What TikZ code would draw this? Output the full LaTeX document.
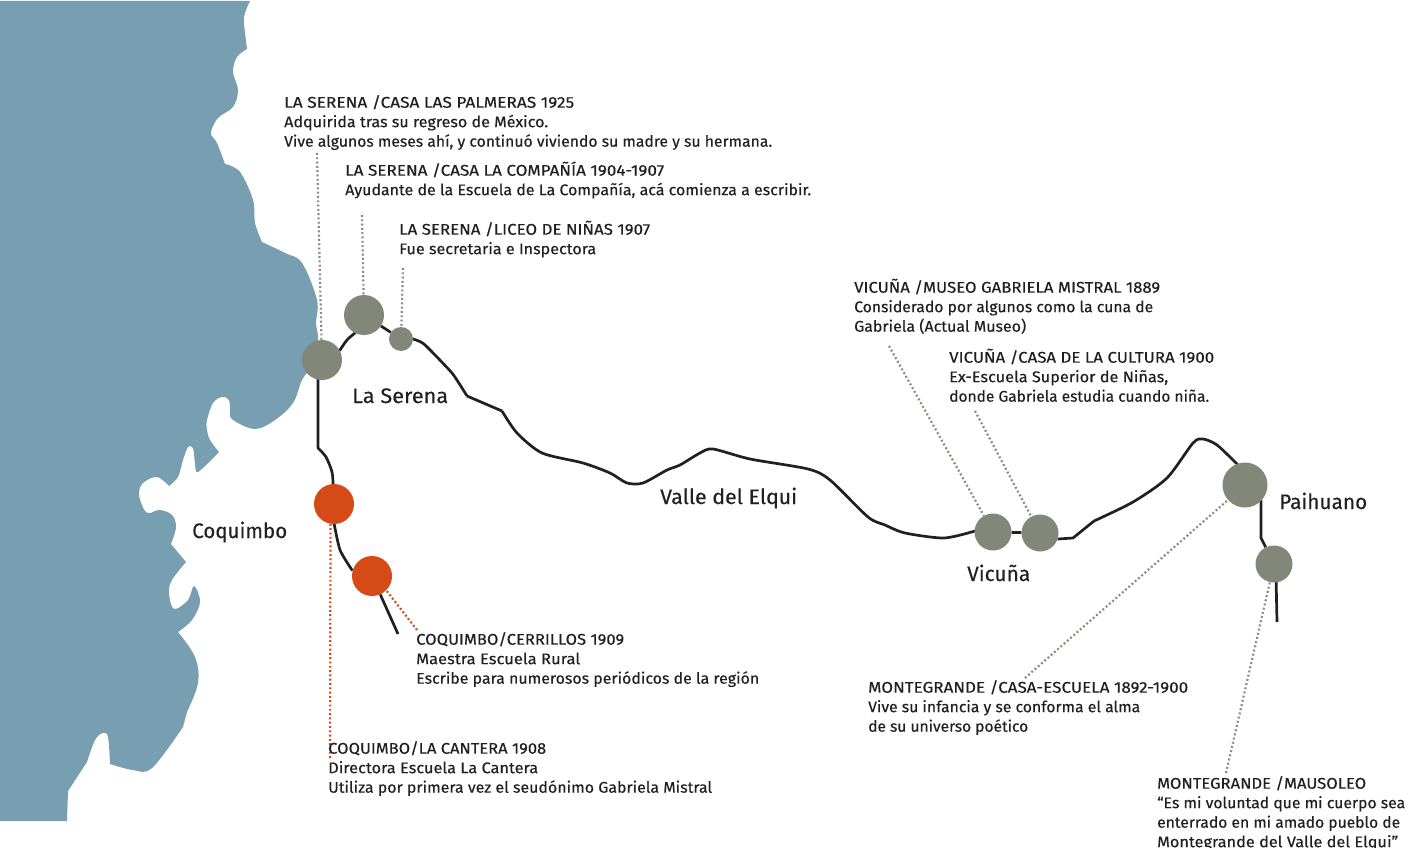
\documentclass[tikz,border=0pt]{standalone}
\usepackage{fontspec}
\setmainfont[FakeBold=0.3]{Fira Sans}
\usetikzlibrary{backgrounds}
\definecolor{sea}{HTML}{779FB1}
\definecolor{stone}{HTML}{83877A}
\definecolor{dotstone}{HTML}{8A8B80}
\definecolor{rust}{HTML}{D64A18}
\definecolor{ink}{HTML}{231F20}
\newcommand{\firstline}{\rule{0pt}{16pt}}
\newcommand{\fitline}[2]{\setbox0=\hbox{#2}\pgfmathsetmacro{\fitratio}{#1/(\the\wd0)}\scalebox{\fitratio}[1]{\box0}}
\tikzset{
  x=1pt,y=-1pt,
  stop/.style={circle,fill=stone,draw=none,inner sep=0pt,minimum size=#1},
  redstop/.style={circle,fill=rust,draw=none,inner sep=0pt,minimum size=#1},
  note/.style={anchor=north west,inner sep=0pt,align=left,text=ink,font=\fontsize{15.5}{19.5}\selectfont},
  place/.style={anchor=base west,inner sep=0pt,text=ink,font=\fontsize{21}{24}\selectfont},
  route/.style={draw=ink,line width=2.7pt,line join=round},
  greydots/.style={draw=dotstone,line width=2.2pt,dash pattern=on 1.9pt off 2.4pt},
  reddots/.style={draw=rust,line width=2.2pt,dash pattern=on 1.9pt off 2.4pt},
}
\begin{document}
\begin{tikzpicture}
\useasboundingbox (0,0) rectangle (1406,848);
% stops
\node[stop=40pt] (nA) at (322,360) {};
\node[stop=40pt] (nB) at (364,315) {};
\node[stop=24pt] (nC) at (401,339) {};
\node[redstop=40pt] (nD) at (334,504) {};
\node[redstop=40pt] (nE) at (372,576) {};
\node[stop=37pt] (nV) at (993,532) {};
\node[stop=37pt] (nW) at (1040,533) {};
\node[stop=45pt] (nP) at (1245,485) {};
\node[stop=37pt] (nQ) at (1274,564) {};
% free ends
\coordinate (eA) at (317,153);
\coordinate (eB) at (362,215);
\coordinate (eC) at (403,268);
\coordinate (eV) at (889,346);
\coordinate (eW) at (975,411);
\coordinate (eP) at (1025,678);
\coordinate (eQ) at (1226,773);
\coordinate (eD) at (330,758);
\coordinate (eE) at (417,630);
\coordinate (tail) at (398,634);
\coordinate (tailb) at (1277,622);
\coordinate (pAout) at (318,378);
\begin{pgfonlayer}{background}
\fill[sea] (0,1) -- (250,1)
 -- plot[smooth,tension=.6] coordinates {(250,1) (245,13) (244,23) (247,49)}
 -- plot[smooth,tension=.6] coordinates {(247,49) (237,57) (233,72) (238,90) (233,107) (218,118) (211,133) (217,143) (225,164)}
 -- plot[smooth,tension=.6] coordinates {(225,164) (240,172) (253,200) (255,223) (262,242)}
 -- plot[smooth,tension=.6] coordinates {(262,242) (285,253) (302,263) (317,300) (316,323) (318,340) (312,365) (302,380) (293,403) (275,420) (255,429) (233,420) (230,413)}
 -- plot[smooth,tension=.6] coordinates {(230,413) (229,400) (222,397) (213,403) (207,420) (207,430) (210,440) (219,452)}
 -- plot[smooth,tension=.5] coordinates {(219,452) (198,472) (195,463) (193,448) (188,447) (183,460) (178,477) (169,486)}
 -- plot[smooth,tension=.6] coordinates {(169,486) (157,477) (143,483) (139,495) (145,511) (151,513)}
 -- plot[smooth,tension=.6] coordinates {(151,513) (160,510) (172,515) (176,527) (171,544)}
 -- (186,562)
 -- plot[smooth,tension=.6] coordinates {(186,562) (172,580) (169,593) (174,609) (188,600) (194,586) (200,602) (192,620) (178,632)}
 -- plot[smooth,tension=.6] coordinates {(178,632) (195,657) (198,683) (187,712)}
 -- (183,727) -- plot[smooth,tension=.6] coordinates {(183,727) (152,768) (133,770) (110,764)}
 -- plot[smooth,tension=.6] coordinates {(110,764) (108,737) (103,733) (95,740) (87,762)}
 -- (68,791) -- (67,821) -- (0,821) -- cycle;
\draw[route] (nA) -- plot[smooth,tension=.5] coordinates {(340,350) (347,340) (355,333)} -- (nB);
\draw[route] (nB) -- (nC);
\draw[route] (nC) -- plot[smooth,tension=.3] coordinates {(413,339) (424,344) (452,373) (467,396)};
\draw[route] (467,396) -- (502,411);
\draw[route] plot[smooth,tension=.45] coordinates {(502,411) (517,433) (542,453) (583,463) (610,473) (627,483) (643,483) (667,470) (680,465) (700,453) (713,449) (750,459) (808,469) (830,480) (868,517) (885,525) (905,533) (944,538) (975,531)} -- (nV);
\draw[route] (nV) -- (nW);
\draw[route] (nW) -- (1058,539) -- (1073,538) -- (1094,521);
\draw[route] plot[smooth,tension=.45] coordinates {(1094,521) (1133,502) (1167,478) (1193,443) (1203,439) (1217,445) (1237,464)} -- (nP);
\draw[route] (1261,500) -- (1261,538) -- (nQ);
\draw[route] (1276,575) -- (tailb);
\draw[route] (pAout) -- (318,448) -- plot[smooth,tension=.5] coordinates {(318,448) (326,457) (332,472) (333,484)} -- (nD);
\draw[route] (nD) -- plot[smooth,tension=.4] coordinates {(334,523) (340,550) (352,570)} -- (nE);
\draw[route] (nE) -- (tail);
\end{pgfonlayer}
% dotted leaders
\draw[greydots] (eA) -- (nA);
\draw[greydots] (eB) -- (nB);
\draw[greydots] (eC) -- (nC);
\draw[greydots] (eV) -- (nV);
\draw[greydots] (eW) -- (nW);
\draw[greydots] (eP) -- (nP);
\draw[greydots] (eQ) -- (nQ);
\draw[reddots] (eD) -- (nD.-100);
\draw[reddots] (eE) -- (nE.-45);
% notes
\node[note] (t1) at (284,91.5) {\firstline\fitline{290}{LA SERENA /CASA LAS PALMERAS 1925}\\\fitline{264}{Adquirida tras su regreso de México.}\\\fitline{488}{Vive algunos meses ahí, y continuó viviendo su madre y su hermana.}};
\node[note] (t2) at (345,159.5) {\firstline\fitline{319}{LA SERENA /CASA LA COMPAÑÍA 1904-1907}\\\fitline{466}{Ayudante de la Escuela de La Compañía, acá comienza a escribir.}};
\node[note] (t3) at (399,218.5) {\firstline\fitline{251}{LA SERENA /LICEO DE NIÑAS 1907}\\\fitline{197}{Fue secretaria e Inspectora}};
\node[note] (t4) at (854,276.5) {\firstline\fitline{306}{VICUÑA /MUSEO GABRIELA MISTRAL 1889}\\\fitline{299}{Considerado por algunos como la cuna de}\\\fitline{172}{Gabriela (Actual Museo)}};
\node[note] (t5) at (949,346.5) {\firstline\fitline{265}{VICUÑA /CASA DE LA CULTURA 1900}\\\fitline{219}{Ex-Escuela Superior de Niñas,}\\\fitline{260}{donde Gabriela estudia cuando niña.}};
\node[note] (t6) at (416,628.5) {\firstline\fitline{208}{COQUIMBO/CERRILLOS 1909}\\\fitline{164}{Maestra Escuela Rural}\\\fitline{343}{Escribe para numerosos periódicos de la región}};
\node[note] (t7) at (328,737.5) {\firstline\fitline{218}{COQUIMBO/LA CANTERA 1908}\\\fitline{210}{Directora Escuela La Cantera}\\\fitline{384}{Utiliza por primera vez el seudónimo Gabriela Mistral}};
\node[note] (t8) at (868,676.5) {\firstline\fitline{320}{MONTEGRANDE /CASA-ESCUELA 1892-1900}\\\fitline{272}{Vive su infancia y se conforma el alma}\\\fitline{160}{de su universo poético}};
\node[note] (t9) at (1157,772.5) {\firstline\fitline{209}{MONTEGRANDE /MAUSOLEO}\\\fitline{248}{“Es mi voluntad que mi cuerpo sea}\\\fitline{243}{enterrado en mi amado pueblo de}\\\fitline{241}{Montegrande del Valle del Elqui”}};
% places
\node[place] (p1) at (352,403) {\fitline{96}{La Serena}};
\node[place] (p2) at (192,538) {\fitline{95}{Coquimbo}};
\node[place] (p3) at (660,504) {\fitline{137}{Valle del Elqui}};
\node[place] (p4) at (967,581) {\fitline{63}{Vicuña}};
\node[place] (p5) at (1279,509) {\fitline{88}{Paihuano}};
\end{tikzpicture}
\end{document}
